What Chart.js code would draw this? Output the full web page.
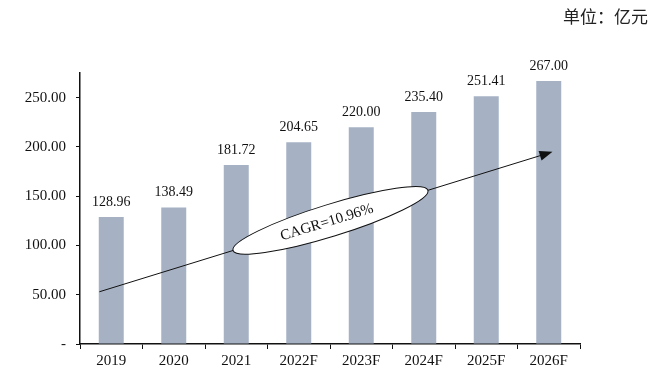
<!DOCTYPE html>
<html>
<head>
<meta charset="utf-8">
<script src="https://cdn.jsdelivr.net/npm/chart.js@4/dist/chart.umd.min.js"></script>
<style>
  html, body { margin: 0; padding: 0; background: #fff; }
  #wrap { position: relative; width: 667px; height: 376px; }
  #unit { position: absolute; left: 563px; top: 3px; font: 17px "Noto Sans CJK SC", sans-serif; color: #222; }
</style>
</head>
<body>
<div id="wrap">
  <canvas id="marketChart" width="667" height="376"></canvas>
  <div id="unit">单位：亿元</div>
</div>
<script>
// Chart data
const years = ['2019', '2020', '2021', '2022F', '2023F', '2024F', '2025F', '2026F'];
const values = [128.96, 138.49, 181.72, 204.65, 220.00, 235.40, 251.41, 267.00];
const yTicks = [0, 50, 100, 150, 200, 250];
const cagrText = 'CAGR=10.96%';
// arrow ends as [category index, value]
const arrowFrom = [-0.19, 53];
const arrowTo = [7.06, 195];

const serif = '"Liberation Serif", "Times New Roman", serif';

// value labels above each bar
const barLabels = {
  id: 'barLabels',
  afterDatasetsDraw(chart) {
    const ctx = chart.ctx;
    ctx.save();
    ctx.font = '14px ' + serif;
    ctx.fillStyle = '#111';
    ctx.textAlign = 'center';
    ctx.textBaseline = 'bottom';
    chart.getDatasetMeta(0).data.forEach((bar, i) => {
      ctx.fillText(values[i].toFixed(2), bar.x, bar.y - 8);
    });
    ctx.restore();
  }
};

// CAGR arrow with ellipse
const cagrArrow = {
  id: 'cagrArrow',
  afterDraw(chart) {
    const xs = chart.scales.x, ys = chart.scales.y;
    const x1 = xs.getPixelForValue(arrowFrom[0]), y1 = ys.getPixelForValue(arrowFrom[1]);
    const x2 = xs.getPixelForValue(arrowTo[0]), y2 = ys.getPixelForValue(arrowTo[1]);
    const ang = Math.atan2(y2 - y1, x2 - x1);
    const ctx = chart.ctx;
    ctx.save();
    ctx.strokeStyle = '#111';
    ctx.fillStyle = '#111';
    ctx.lineWidth = 1;
    ctx.beginPath();
    ctx.moveTo(x1, y1);
    ctx.lineTo(x2 - 10 * Math.cos(ang), y2 - 10 * Math.sin(ang));
    ctx.stroke();
    // head
    ctx.translate(x2, y2);
    ctx.rotate(ang);
    ctx.beginPath();
    ctx.moveTo(0, 0);
    ctx.lineTo(-13, -5);
    ctx.lineTo(-13, 5);
    ctx.closePath();
    ctx.fill();
    ctx.restore();

    // ellipse on the line
    const t = 0.51;
    const cx = x1 + (x2 - x1) * t, cy = y1 + (y2 - y1) * t;
    ctx.save();
    ctx.translate(cx, cy);
    ctx.rotate(ang);
    ctx.beginPath();
    ctx.ellipse(0, 0, 102, 16, 0, 0, Math.PI * 2);
    ctx.fillStyle = '#fff';
    ctx.fill();
    ctx.strokeStyle = '#111';
    ctx.lineWidth = 1;
    ctx.stroke();
    ctx.fillStyle = '#111';
    ctx.font = '15px ' + serif;
    ctx.textAlign = 'center';
    ctx.textBaseline = 'middle';
    ctx.fillText(cagrText, -4, 1);
    ctx.restore();
  }
};

const ctx = document.getElementById('marketChart').getContext('2d');
new Chart(ctx, {
  type: 'bar',
  data: {
    labels: years,
    datasets: [{
      data: values,
      backgroundColor: '#a6b2c4',
      barPercentage: 0.4,
      categoryPercentage: 1.0
    }]
  },
  options: {
    responsive: false,
    animation: false,
    layout: { padding: { top: 73, right: 87, left: 0, bottom: 0 } },
    plugins: {
      legend: { display: false },
      tooltip: { enabled: false }
    },
    scales: {
      x: {
        afterFit: s => { s.height = 32; },
        border: { color: '#111', width: 1.5 },
        grid: { drawOnChartArea: false, color: '#111', tickLength: 5, offset: true },
        ticks: { color: '#111', font: { family: serif, size: 15 }, padding: 3 }
      },
      y: {
        min: 0,
        max: 275,
        afterFit: s => { s.width = 80; },
        afterBuildTicks: s => { s.ticks = yTicks.map(v => ({ value: v })); },
        border: { color: '#111', width: 1.5 },
        grid: { drawOnChartArea: false, color: '#111', tickLength: 4 },
        ticks: {
          color: '#111',
          font: { family: serif, size: 15 },
          padding: 10,
          callback: v => v === 0 ? '-' : v.toFixed(2)
        }
      }
    }
  },
  plugins: [barLabels, cagrArrow]
});
</script>
</body>
</html>
